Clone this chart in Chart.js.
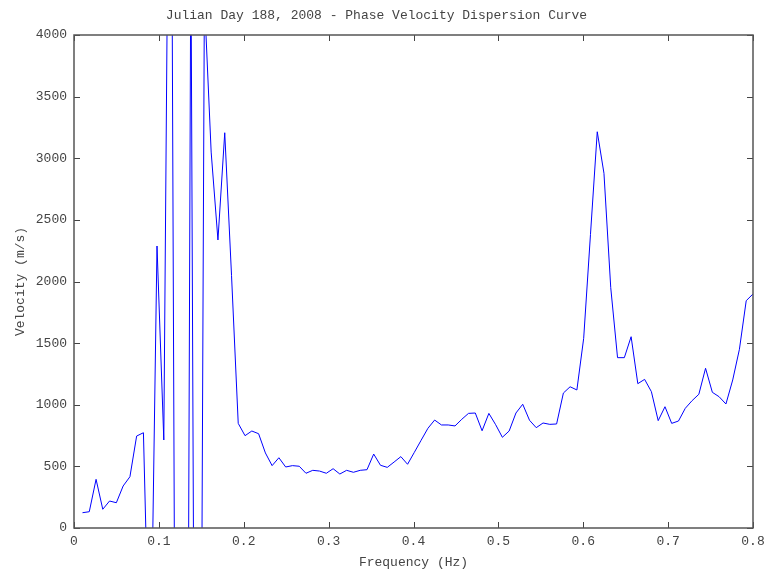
<!DOCTYPE html>
<html>
<head>
<meta charset="utf-8">
<title>Phase Velocity Dispersion Curve</title>
<script src="https://cdn.jsdelivr.net/npm/chart.js@4.4.1/dist/chart.umd.min.js"></script>
<style>
  html, body { margin: 0; padding: 0; background: #fff; }
  #wrap { width: 768px; height: 573px; }
</style>
</head>
<body>
<div id="wrap"><canvas id="dispersion" width="768" height="573"></canvas></div>
<script>
// frequency samples (Hz)
const frequencies = [
  0.0100, 0.0180, 0.0260, 0.0339, 0.0419, 0.0499, 0.0579, 0.0659, 0.0738, 0.0818,
  0.0898, 0.0978, 0.1058, 0.1137, 0.1217, 0.1297, 0.1377, 0.1457, 0.1536, 0.1616,
  0.1696, 0.1776, 0.1856, 0.1935, 0.2015, 0.2095, 0.2175, 0.2255, 0.2334, 0.2414,
  0.2494, 0.2574, 0.2654, 0.2733, 0.2813, 0.2893, 0.2973, 0.3053, 0.3132, 0.3212,
  0.3292, 0.3372, 0.3452, 0.3531, 0.3611, 0.3691, 0.3771, 0.3851, 0.3930, 0.4010,
  0.4090, 0.4170, 0.4249, 0.4329, 0.4409, 0.4489, 0.4569, 0.4648, 0.4728, 0.4808,
  0.4888, 0.4968, 0.5047, 0.5127, 0.5207, 0.5287, 0.5367, 0.5446, 0.5526, 0.5606,
  0.5686, 0.5766, 0.5845, 0.5925, 0.6005, 0.6085, 0.6165, 0.6244, 0.6324, 0.6404,
  0.6484, 0.6564, 0.6643, 0.6723, 0.6803, 0.6883, 0.6963, 0.7042, 0.7122, 0.7202,
  0.7282, 0.7362, 0.7441, 0.7521, 0.7601, 0.7681, 0.7761, 0.7840, 0.7920, 0.8000
];

// phase velocity (m/s) per frequency
const velocities = [
  124, 132, 395, 152, 219, 205, 341, 416, 746, 773,
  -1450, 2288, 714, 7600, -6000, -10000, 4800, -8000, 4300, 3050,
  2337, 3207, 2050, 849, 749, 787, 765, 609, 506, 570,
  495, 506, 501, 444, 468, 462, 444, 481, 438, 468,
  452, 468, 473, 600, 509, 492, 535, 579, 517, 614,
  712, 809, 876, 836, 836, 828, 882, 930, 933, 789,
  930, 838, 736, 787, 933, 1004, 874, 814, 852, 841,
  844, 1095, 1146, 1120, 1539, 2380, 3215, 2878, 1950, 1382,
  1382, 1552, 1171, 1206, 1106, 871, 984, 849, 868, 971,
  1033, 1085, 1296, 1101, 1065, 1006, 1201, 1450, 1844, 1899
];

const xTicks = [0, 0.1, 0.2, 0.3, 0.4, 0.5, 0.6, 0.7, 0.8];
const yTicks = [0, 500, 1000, 1500, 2000, 2500, 3000, 3500, 4000];

const monoFont = "'Liberation Mono', 'DejaVu Sans Mono', monospace";
const textColor = "#444";

// box around the plot with inward ticks on all four sides
const axesBox = {
  id: "axesBox",
  afterDraw(chart) {
    const { ctx, chartArea: a, scales } = chart;
    const tick = 6;
    ctx.save();
    ctx.strokeStyle = "#444";
    ctx.lineWidth = 1;
    ctx.beginPath();
    xTicks.forEach((v) => {
      const px = Math.round(scales.x.getPixelForValue(v)) + 0.5;
      ctx.moveTo(px, a.bottom);
      ctx.lineTo(px, a.bottom - tick);
      ctx.moveTo(px, a.top);
      ctx.lineTo(px, a.top + tick);
    });
    yTicks.forEach((v) => {
      const py = Math.round(scales.y.getPixelForValue(v)) + 0.5;
      ctx.moveTo(a.left, py);
      ctx.lineTo(a.left + tick, py);
      ctx.moveTo(a.right, py);
      ctx.lineTo(a.right - tick, py);
    });
    ctx.stroke();
    ctx.strokeStyle = "#555";
    ctx.lineWidth = 1.5;
    ctx.strokeRect(a.left, a.top, a.right - a.left, a.bottom - a.top);
    ctx.restore();
  },
};

const ctx = document.getElementById("dispersion").getContext("2d");
new Chart(ctx, {
  type: "line",
  data: {
    datasets: [
      {
        data: frequencies.map((f, i) => ({ x: f, y: velocities[i] })),
        borderColor: "#0000ff",
        borderWidth: 1,
        pointRadius: 0,
        tension: 0,
        fill: false,
      },
    ],
  },
  options: {
    responsive: false,
    animation: false,
    devicePixelRatio: 1,
    layout: { padding: { left: 0, right: 15, top: 0, bottom: 0 } },
    plugins: {
      legend: { display: false },
      tooltip: { enabled: false },
      title: {
        display: true,
        text: "Julian Day 188, 2008 - Phase Velocity Dispersion Curve",
        color: textColor,
        font: { family: monoFont, size: 13, weight: "normal" },
        padding: { top: 8, bottom: 11.4 },
      },
    },
    scales: {
      x: {
        type: "linear",
        min: 0,
        max: 0.8,
        afterFit: (scale) => {
          scale.height = 45;
          scale.paddingLeft = 0;
          scale.paddingRight = 0;
        },
        afterBuildTicks: (scale) => { scale.ticks = xTicks.map((v) => ({ value: v })); },
        grid: { display: false, drawTicks: false },
        border: { display: false },
        ticks: {
          color: textColor,
          font: { family: monoFont, size: 13 },
          padding: 6,
          maxRotation: 0,
          callback: (v) => String(Number(v.toFixed(1))),
        },
        title: {
          display: true,
          text: "Frequency (Hz)",
          color: textColor,
          font: { family: monoFont, size: 13 },
          padding: { top: 0, bottom: 3 },
        },
      },
      y: {
        type: "linear",
        min: 0,
        max: 4000,
        afterFit: (scale) => {
          scale.width = 74;
          scale.paddingTop = 0;
          scale.paddingBottom = 0;
        },
        afterBuildTicks: (scale) => { scale.ticks = yTicks.map((v) => ({ value: v })); },
        grid: { display: false, drawTicks: false },
        border: { display: false },
        ticks: {
          color: textColor,
          font: { family: monoFont, size: 13 },
          padding: 7,
          callback: (v) => String(v),
        },
        title: {
          display: true,
          text: "Velocity (m/s)",
          color: textColor,
          font: { family: monoFont, size: 13 },
          padding: { top: 13, bottom: 0 },
        },
      },
    },
  },
  plugins: [axesBox],
});
</script>
</body>
</html>
